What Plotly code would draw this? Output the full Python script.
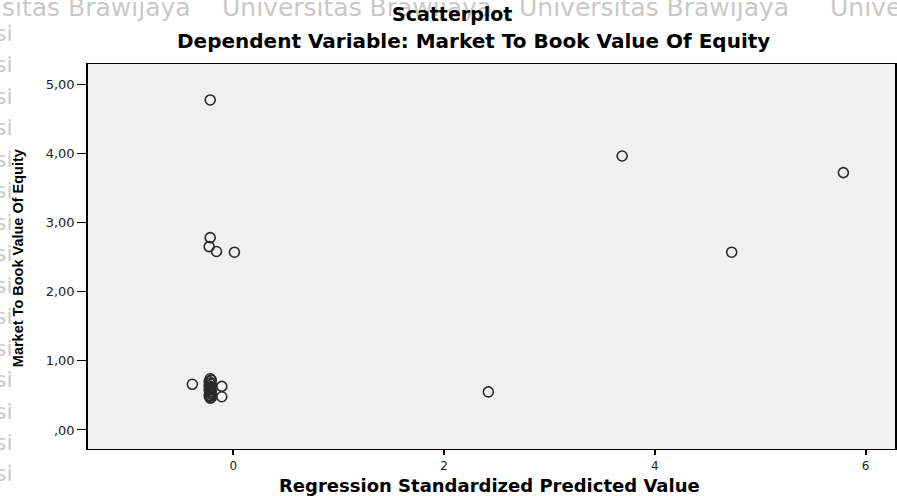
import plotly.graph_objects as go

# Data
pred_x = [-0.22, -0.22, -0.23, -0.16, 0.01, 2.42, 3.69, 4.73, 5.79,
          -0.39, -0.11, -0.11,
          -0.22, -0.21, -0.23, -0.22, -0.21, -0.23, -0.22, -0.21, -0.22,
          -0.23, -0.21, -0.22, -0.22, -0.21, -0.23, -0.22, -0.21, -0.22]
mtbv_y = [4.77, 2.78, 2.65, 2.58, 2.57, 0.55, 3.96, 2.57, 3.72,
          0.66, 0.63, 0.48,
          0.74, 0.72, 0.70, 0.68, 0.66, 0.64, 0.62, 0.61, 0.59,
          0.58, 0.56, 0.55, 0.53, 0.52, 0.50, 0.49, 0.47, 0.46]

x_ticks = [0, 2, 4, 6]
x_tick_labels = ["0", "2", "4", "6"]
y_ticks = [0, 1, 2, 3, 4, 5]
y_tick_labels = [",00", "1,00", "2,00", "3,00", "4,00", "5,00"]

title_main = "Scatterplot"
title_sub = "Dependent Variable: Market To Book Value Of Equity"
x_title = "Regression Standardized Predicted Value"
y_title = "Market To Book Value Of Equity"
wm_first = "sitas Brawijaya"
wm_repeat = "Universitas Brawijaya"
wm_last = "Unive"
wm_side = "si"

W, H = 897, 496
L, R, T, B = 88, 897, 64, 449

def px(x):
    return (x - L) / (R - L)

def py(y):
    return (B - y) / (B - T)

fig = go.Figure()
fig.add_trace(go.Scatter(
    x=pred_x, y=mtbv_y, mode="markers",
    marker=dict(symbol="circle-open", size=10, color="#2a2a2a",
                line=dict(width=1.6, color="#2a2a2a")),
    hoverinfo="x+y", showlegend=False,
))

WM = dict(family="DejaVu Sans", size=25, color="#c9c9c9")
WMS = dict(family="DejaVu Sans", size=22, color="#c9c9c9")
TF = dict(family="DejaVu Sans", size=18, color="#000")

ann = []
def add(text, x, y, xa="center", font=TF, angle=0):
    ann.append(dict(text=text, x=px(x), y=py(y), xref="paper", yref="paper",
                    xanchor=xa, yanchor="middle", showarrow=False,
                    textangle=angle, font=font))

add(wm_first, 193, 8, "right", WM)
add(wm_repeat, 220, 8, "left", WM)
add(wm_repeat, 518, 8, "left", WM)
add(wm_last, 830, 8, "left", WM)
for k in range(15):
    add(wm_side, -7, 33 + 31.5 * k, "left", WMS)

add("<b>%s</b>" % title_main, 453, 14, font=dict(family="DejaVu Sans", size=19, color="#000"))
add("<b>%s</b>" % title_sub, 474, 41, font=dict(family="DejaVu Sans", size=20, color="#000"))
add("<b>%s</b>" % x_title, 490, 485)
add("<b>%s</b>" % y_title, 18, 258,
    font=dict(family="Liberation Sans", size=14.5, color="#000"), angle=-90)

TICKF = dict(family="DejaVu Sans", size=13, color="#222")
fig.update_layout(
    width=W, height=H,
    margin=dict(l=L, r=W - R, t=T, b=H - B),
    paper_bgcolor="white", plot_bgcolor="#f0f0f0",
    annotations=ann,
    xaxis=dict(range=[-1.38, 6.28], tickvals=x_ticks, ticktext=x_tick_labels,
               showgrid=False, zeroline=False, showline=True, linecolor="#000",
               linewidth=1.3, mirror=True, ticks="outside", ticklen=5, tickwidth=1.8,
               tickcolor="#000", tickfont=dict(family="DejaVu Sans", size=12, color="#222")),
    yaxis=dict(range=[-0.275, 5.29], tickvals=y_ticks, ticktext=y_tick_labels,
               showgrid=False, zeroline=False, showline=True, linecolor="#000",
               linewidth=1.6, mirror=True, ticks="outside", ticklen=9, tickwidth=1.2,
               tickcolor="#000", tickfont=TICKF),
)

fig.write_html("out.html", config={"displayModeBar": False},
               post_script="document.body.style.margin='0';")
